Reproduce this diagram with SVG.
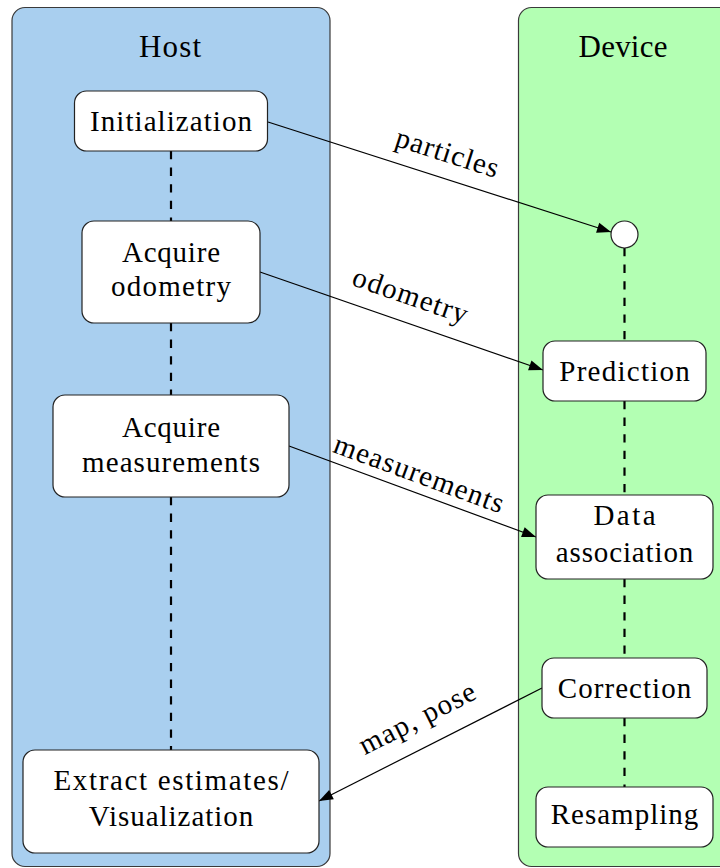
<svg xmlns="http://www.w3.org/2000/svg" width="720" height="868" viewBox="0 0 720 868">
  <style>
    .panel { stroke: #3a3a3a; stroke-width: 1.2; }
    .node { fill: #fff; stroke: #222; stroke-width: 1.2; }
    .flow { fill: none; stroke: #000; stroke-width: 1.2; marker-end: url(#arrow); }
    .seq { fill: none; stroke: #000; stroke-width: 2.2; stroke-dasharray: 8.3 8.3; }
  </style>
  <defs>
    <marker id="arrow" markerUnits="userSpaceOnUse" markerWidth="16" markerHeight="12" refX="15" refY="6" orient="auto">
      <path d="M15,6 L1,0.8 L1,11.2 Z" fill="#000"/>
    </marker>
  </defs>

  <rect width="720" height="868" fill="#fff"/>

  <!-- swimlanes -->
  <g id="host-lane">
    <rect class="panel" x="12" y="7.5" width="318" height="859" rx="13" fill="#a9cfef"/>
    <text x="170" y="57" font-family="Liberation Serif" font-size="31" text-anchor="middle" textLength="62" lengthAdjust="spacing">Host</text>
  </g>
  <g id="device-lane">
    <rect class="panel" x="518.5" y="7.5" width="230" height="859" rx="13" fill="#b3ffb3"/>
    <text x="623" y="57" font-family="Liberation Serif" font-size="31" text-anchor="middle" textLength="89" lengthAdjust="spacing">Device</text>
  </g>

  <!-- sequence lines and data flows -->
  <g id="connectors">
    <line class="seq" x1="171" y1="151" x2="171" y2="221"/>
    <line class="seq" x1="171" y1="323" x2="171" y2="395"/>
    <line class="seq" x1="171" y1="497" x2="171" y2="750"/>
    <line class="seq" x1="624.5" y1="248" x2="624.5" y2="341"/>
    <line class="seq" x1="624.5" y1="401" x2="624.5" y2="495"/>
    <line class="seq" x1="624.5" y1="579" x2="624.5" y2="658"/>
    <line class="seq" x1="624.5" y1="718" x2="624.5" y2="787"/>

    <path class="flow" d="M268,122 L611,232"/>
    <path class="flow" d="M260,272 L543,370"/>
    <path class="flow" d="M289,446 L536,537"/>
    <path class="flow" d="M542,688 L319,801"/>

    <text transform="translate(439.5,177) rotate(17.78)" x="0" y="-16" font-family="Liberation Serif" font-size="29" text-anchor="middle" textLength="106.6" lengthAdjust="spacing">particles</text>
    <text transform="translate(401.5,321) rotate(19.1)" x="0" y="-17.5" font-family="Liberation Serif" font-size="29" text-anchor="middle" textLength="120" lengthAdjust="spacing">odometry</text>
    <text transform="translate(412.5,491.5) rotate(20.2)" x="0" y="-9.5" font-family="Liberation Serif" font-size="29" text-anchor="middle" textLength="179" lengthAdjust="spacing">measurements</text>
    <text transform="translate(430.5,744.5) rotate(-26.87)" x="0" y="-20" font-family="Liberation Serif" font-size="29" text-anchor="middle" textLength="127" lengthAdjust="spacing">map, pose</text>
  </g>

  <!-- host steps -->
  <g id="initialization">
    <rect class="node" x="74.5" y="91" width="193" height="60" rx="12"/>
    <text x="171" y="131" font-family="Liberation Serif" font-size="29" text-anchor="middle" textLength="162" lengthAdjust="spacing">Initialization</text>
  </g>
  <g id="acquire-odometry">
    <rect class="node" x="82" y="221" width="178" height="102" rx="12"/>
    <text x="171" y="262" font-family="Liberation Serif" font-size="29" text-anchor="middle" textLength="98" lengthAdjust="spacing">Acquire</text>
    <text x="171" y="296" font-family="Liberation Serif" font-size="29" text-anchor="middle" textLength="120" lengthAdjust="spacing">odometry</text>
  </g>
  <g id="acquire-measurements">
    <rect class="node" x="53" y="395" width="236" height="102" rx="12"/>
    <text x="171" y="437" font-family="Liberation Serif" font-size="29" text-anchor="middle" textLength="98" lengthAdjust="spacing">Acquire</text>
    <text x="171" y="472" font-family="Liberation Serif" font-size="29" text-anchor="middle" textLength="178" lengthAdjust="spacing">measurements</text>
  </g>
  <g id="extract-estimates">
    <rect class="node" x="23" y="750" width="296" height="103" rx="12"/>
    <text x="171" y="790" font-family="Liberation Serif" font-size="29" text-anchor="middle" textLength="235" lengthAdjust="spacing">Extract estimates/</text>
    <text x="171" y="826" font-family="Liberation Serif" font-size="29" text-anchor="middle" textLength="164.5" lengthAdjust="spacing">Visualization</text>
  </g>

  <!-- device steps -->
  <g id="start">
    <circle class="node" cx="624.5" cy="234.5" r="13.5"/>
  </g>
  <g id="prediction">
    <rect class="node" x="543" y="341" width="163" height="60" rx="12"/>
    <text x="624.5" y="380.5" font-family="Liberation Serif" font-size="29" text-anchor="middle" textLength="130.5" lengthAdjust="spacing">Prediction</text>
  </g>
  <g id="data-association">
    <rect class="node" x="536" y="495" width="177" height="84" rx="12"/>
    <text x="624.5" y="525" font-family="Liberation Serif" font-size="29" text-anchor="middle" textLength="62" lengthAdjust="spacing">Data</text>
    <text x="624.5" y="562" font-family="Liberation Serif" font-size="29" text-anchor="middle" textLength="137.5" lengthAdjust="spacing">association</text>
  </g>
  <g id="correction">
    <rect class="node" x="542" y="658" width="165" height="60" rx="12"/>
    <text x="624.5" y="697.5" font-family="Liberation Serif" font-size="29" text-anchor="middle" textLength="133.5" lengthAdjust="spacing">Correction</text>
  </g>
  <g id="resampling">
    <rect class="node" x="536" y="787" width="177" height="60" rx="12"/>
    <text x="624.5" y="824" font-family="Liberation Serif" font-size="29" text-anchor="middle" textLength="147.5" lengthAdjust="spacing">Resampling</text>
  </g>
</svg>
